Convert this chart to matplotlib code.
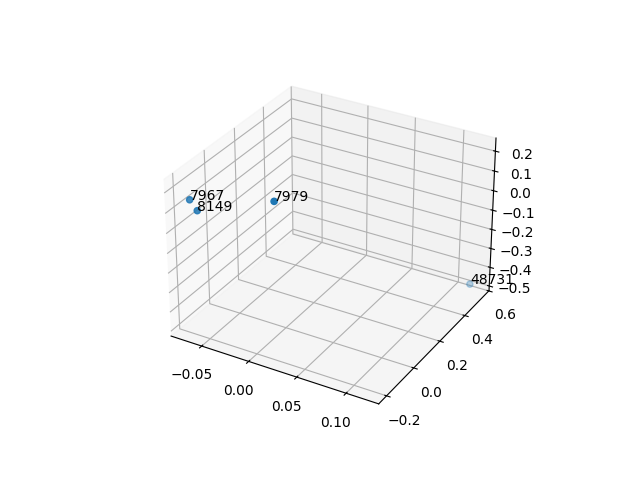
import matplotlib
matplotlib.use("Agg")
import matplotlib.pyplot as plt

labels = ["7967", "8149", "7979", "48731"]
xs = [-0.0695, -0.0585, 0.0106, 0.1187]
ys = [-0.182, -0.2015, -0.135, 0.5475]
zs = [0.142, 0.115, 0.215, -0.475]

fig = plt.figure(figsize=(6.4, 4.8))
ax = fig.add_subplot(projection="3d")
ax.scatter(xs, ys, zs)

# label each point with its id
for x, y, z, name in zip(xs, ys, zs, labels):
    ax.text(x, y, z, name)

fig.savefig("out.png", dpi=100)
